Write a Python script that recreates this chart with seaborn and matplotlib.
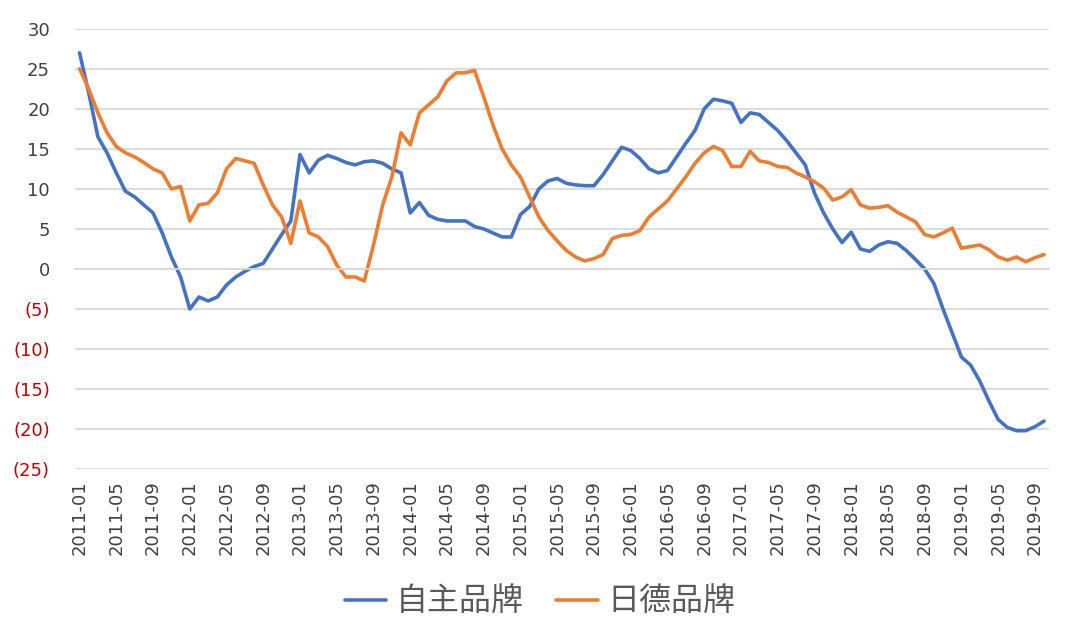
import pandas as pd
import matplotlib.pyplot as plt
import seaborn as sns
import numpy as np

# Data: monthly values 2011-01 .. 2019-10
months = pd.period_range('2011-01', '2019-10', freq='M').strftime('%Y-%m').tolist()

own_brand = [27, 22, 16.5, 14.5, 12, 9.7, 9, 8, 7, 4.5,
             1.5, -1, -5, -3.5, -4, -3.5, -2, -1, -0.3, 0.3,
             0.7, 2.5, 4.3, 6, 14.3, 12, 13.6, 14.2, 13.8, 13.3,
             13, 13.4, 13.5, 13.2, 12.5, 12, 7, 8.3, 6.7, 6.2,
             6, 6, 6, 5.3, 5, 4.5, 4, 4, 6.8, 7.8,
             10, 11, 11.3, 10.7, 10.5, 10.4, 10.4, 11.8, 13.5, 15.2,
             14.8, 13.8, 12.5, 12, 12.3, 14, 15.7, 17.3, 20, 21.2,
             21, 20.7, 18.3, 19.5, 19.3, 18.3, 17.3, 16, 14.5, 13,
             9.5, 7, 5, 3.3, 4.6, 2.5, 2.2, 3, 3.4, 3.2,
             2.3, 1.2, 0, -1.8, -5, -8, -11, -12, -14, -16.5,
             -18.8, -19.8, -20.2, -20.2, -19.7, -19]

jp_de_brand = [25, 22.5, 19.5, 17, 15.3, 14.5, 14, 13.3, 12.5, 12,
               10, 10.3, 6, 8, 8.2, 9.5, 12.5, 13.8, 13.5, 13.2,
               10.5, 8, 6.5, 3.2, 8.5, 4.5, 4, 2.8, 0.5, -1,
               -1, -1.5, 3, 8, 11.5, 17, 15.5, 19.5, 20.5, 21.5,
               23.5, 24.5, 24.5, 24.8, 21.5, 18, 15, 13, 11.5, 9,
               6.5, 4.8, 3.5, 2.3, 1.5, 1.0, 1.3, 1.8, 3.8, 4.2,
               4.3, 4.8, 6.5, 7.5, 8.5, 10, 11.5, 13.2, 14.5, 15.3,
               14.8, 12.8, 12.8, 14.7, 13.5, 13.3, 12.8, 12.7, 12, 11.5,
               10.9, 10.1, 8.6, 9, 9.9, 8, 7.6, 7.7, 7.9, 7.1,
               6.5, 5.9, 4.3, 4, 4.5, 5.1, 2.6, 2.8, 3, 2.4,
               1.5, 1.1, 1.5, 0.9, 1.4, 1.8]

series_names = ['自主品牌', '日德品牌']
y_ticks = [30, 25, 20, 15, 10, 5, 0, -5, -10, -15, -20, -25]
y_labels = ['30', '25', '20', '15', '10', '5', '0',
            '(5)', '(10)', '(15)', '(20)', '(25)']

BLUE = '#4472C4'
ORANGE = '#ED7D31'
GRID = '#D9D9D9'
TEXT = '#404040'
RED = '#C00000'

sns.set_style('white')
plt.rcParams['font.family'] = ['DejaVu Sans', 'Noto Sans CJK SC']

df = pd.DataFrame({
    'idx': list(range(len(months))) * 2,
    'value': own_brand + jp_de_brand,
    'brand': [series_names[0]] * len(months) + [series_names[1]] * len(months),
})

fig = plt.figure(figsize=(10.8, 6.4), dpi=100)
ax = fig.add_axes([0.0694, 0.267, 0.9016, 0.688])

sns.lineplot(data=df, x='idx', y='value', hue='brand',
             palette=[BLUE, ORANGE], linewidth=2.6, ax=ax)

handles, labels = ax.get_legend_handles_labels()
ax.get_legend().remove()

ax.set_xlim(-0.5, len(months) - 0.5)
ax.set_ylim(-25, 30)
ax.set_yticks(y_ticks)
ax.set_yticklabels(y_labels)
for lab, v in zip(ax.get_yticklabels(), y_ticks):
    lab.set_color(RED if v < 0 else TEXT)
ax.tick_params(axis='y', length=0, pad=18, labelsize=13)
ax.yaxis.grid(True, color=GRID, linewidth=1.3)
ax.set_axisbelow(True)
ax.set_xlabel('')
ax.set_ylabel('')

for s in ['top', 'right', 'left']:
    ax.spines[s].set_visible(False)
ax.spines['bottom'].set_position(('data', 0))
ax.spines['bottom'].set_color(GRID)
ax.spines['bottom'].set_linewidth(1.3)

# tick marks at category boundaries, labels every 4 months on the bottom
tick_idx = list(range(0, len(months), 4))
ax.set_xticks([i - 0.5 for i in tick_idx])
ax.set_xticklabels([])
ax.tick_params(axis='x', length=5, width=1.2, color=GRID, direction='out')

sec = ax.secondary_xaxis(0)
sec.set_xticks(tick_idx)
sec.set_xticklabels([months[i] for i in tick_idx], rotation=90,
                    fontsize=13, color=TEXT)
sec.tick_params(length=0, pad=8)
sec.spines['bottom'].set_visible(False)

fig.legend(handles, labels, loc='center', bbox_to_anchor=(0.5, 0.058),
           ncol=2, frameon=False, fontsize=23, handlelength=1.3,
           handletextpad=0.3, columnspacing=1.0, labelcolor='#595959')

plt.savefig('out.png', dpi=100, facecolor='white')
